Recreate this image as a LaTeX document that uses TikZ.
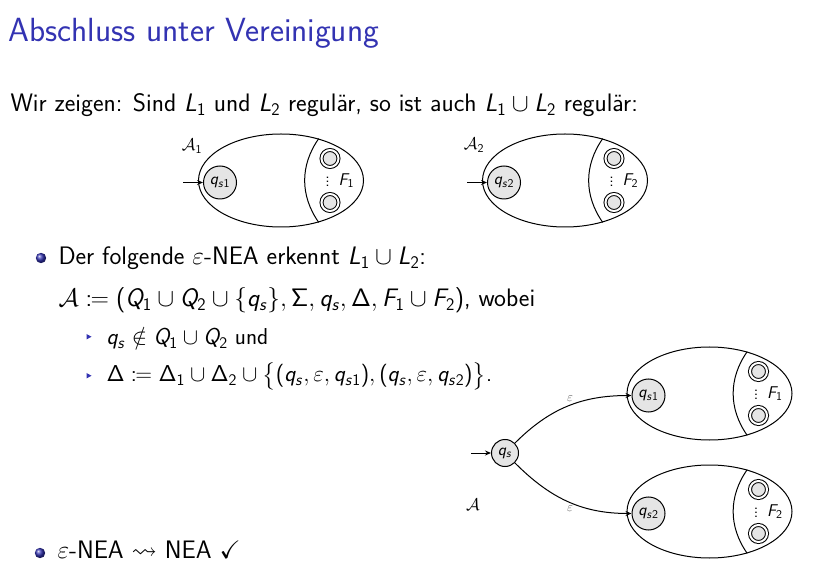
\RequirePackage{fix-cm}
\documentclass[tikz,border=0pt]{standalone}
\usepackage{amssymb}
\usepackage{mathtools}
\usetikzlibrary{positioning,shapes.geometric,arrows.meta}
\renewcommand{\familydefault}{\sfdefault}
% sans-serif math as on the slides
\DeclareSymbolFont{operators}{OT1}{cmss}{m}{n}
\DeclareSymbolFont{sfit}{OT1}{cmss}{m}{sl}
\DeclareMathSymbol{L}{\mathalpha}{sfit}{`L}
\DeclareMathSymbol{Q}{\mathalpha}{sfit}{`Q}
\DeclareMathSymbol{F}{\mathalpha}{sfit}{`F}
\DeclareMathSymbol{q}{\mathalpha}{sfit}{`q}
\DeclareMathSymbol{s}{\mathalpha}{sfit}{`s}
\definecolor{structure}{RGB}{51,51,178}
\tikzset{
  zone/.style={draw, ellipse, minimum width=165pt, minimum height=93pt, inner sep=0pt},
  state/.style={draw, circle, fill=black!10, minimum size=33pt, inner sep=0pt, font=\fontsize{17}{20}\selectfont},
  final/.style={draw, circle, double, double distance=2pt, fill=black!10, minimum size=17pt, inner sep=0pt},
  txt/.style={anchor=base west, inner sep=0pt, font=\fontsize{25.3}{30}\selectfont},
  subtxt/.style={txt, font=\fontsize{23}{28}\selectfont},
  small/.style={inner sep=0pt, font=\fontsize{17}{20}\selectfont},
  eps/.style={text=black!65, font=\fontsize{13}{15}\selectfont}
}

\begin{document}
\begin{tikzpicture}[x=1pt, y=1pt, line width=1pt, >={Stealth[length=6pt, width=5pt]}]
  \useasboundingbox (0,0) rectangle (835,576);
  % Title and text
  \node[txt, text=structure, font=\fontsize{33.5}{40}\selectfont] (title) at (8,534) {Abschluss unter Vereinigung};
  \node[txt] (intro) at (10,464) {Wir zeigen: Sind $L_1$ und $L_2$ regul\"ar, so ist auch $L_1 \cup L_2$ regul\"ar:};
  \node[txt] (item1) at (58,311) {Der folgende $\varepsilon$-NEA erkennt $L_1 \cup L_2$:};
  \node[txt] (item1b) at (58,269) {$\mathcal{A} \coloneqq (Q_1 \cup Q_2 \cup \{q_s\}, \Sigma, q_s, \Delta, F_1 \cup F_2)$, wobei};
  \node[subtxt] (sub1) at (106,231) {$q_s \notin Q_1 \cup Q_2$ und};
  \node[subtxt] (sub2) at (106,194) {$\Delta \coloneqq \Delta_1 \cup \Delta_2 \cup \big\{(q_s,\varepsilon,q_{s1}),(q_s,\varepsilon,q_{s2})\big\}$.};
  \node[txt] (item2) at (57,18) {$\varepsilon$-NEA $\leadsto$ NEA $\checkmark$};
  % Bullets
  \shade[ball color=structure] (41,318) circle (5.2);
  \shade[ball color=structure] (40,23) circle (5.2);
  \fill[structure] (86.5,236.5) -- (86.5,242) -- (91.5,239.3) -- cycle;
  \fill[structure] (86.5,197.5) -- (86.5,203) -- (91.5,200.3) -- cycle;
  % Define the automata
  \foreach \n/\x/\y/\q/\F in {A1/281/395.5/{q_{s1}}/{F_1}, A2/565/395.5/{q_{s2}}/{F_2},
                              B1/709.5/182.5/{q_{s1}}/{F_1}, B2/709.5/64.5/{q_{s2}}/{F_2}}{
    \node[zone] (\n) at (\x,\y) {};
    \node[state, shift={(-61,-2)}] (\n-q) at (\n) {$\q$};
    \node[final, shift={(49,22)}] (\n-f1) at (\n) {};
    \node[final, shift={(49,-22)}] (\n-f2) at (\n) {};
    \node[small, shift={(46.5,2)}] (\n-d) at (\n) {$\vdots$};
    \node[small, anchor=west, shift={(57,0)}] (\n-F) at (\n) {$\F$};
    \draw (\n.48) to[bend right=35] (\n.-48);
  }
  \node[small] (lA1) at (192,430) {$\mathcal{A}_1$};
  \node[small] (lA2) at (474,431) {$\mathcal{A}_2$};
  \coordinate[left=20pt of A1-q] (in1);
  \coordinate[left=20pt of A2-q] (in2);
  \draw[->] (in1) -- (A1-q);
  \draw[->] (in2) -- (A2-q);
  % Union automaton
  \node[state, minimum size=27pt] (qs) at (505,123) {$q_s$};
  \node[small] (lA) at (473,71) {$\mathcal{A}$};
  \coordinate[left=20pt of qs] (in0);
  \draw[->] (in0) -- (qs);
  \draw[->] (qs) to[out=45, in=180] node[eps, above, pos=0.52] {$\varepsilon$} (B1-q);
  \draw[->] (qs) to[out=-45, in=180] node[eps, below, pos=0.52] {$\varepsilon$} (B2-q);
\end{tikzpicture}
\end{document}
